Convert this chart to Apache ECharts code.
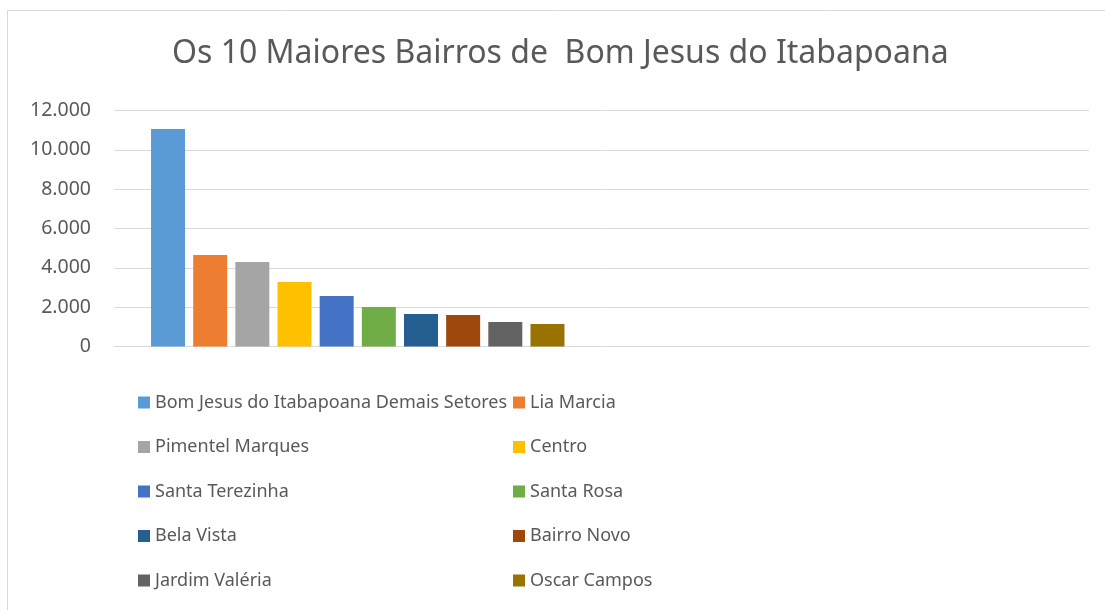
<!DOCTYPE html>
<html>
<head>
<meta charset="utf-8">
<script src="https://cdn.jsdelivr.net/npm/echarts@6/dist/echarts.min.js"></script>
<style>
  html, body { margin: 0; padding: 0; background: #fff; }
  #chart { width: 1105px; height: 610px; }
</style>
</head>
<body>
<div id="chart"></div>
<script>
// bairros (one series each, as in the original sheet)
const bairros = [
    'Bom Jesus do Itabapoana Demais Setores', 'Lia Marcia',
    'Pimentel Marques', 'Centro',
    'Santa Terezinha', 'Santa Rosa',
    'Bela Vista', 'Bairro Novo',
    'Jardim Valéria', 'Oscar Campos'
];
const populacao = [11060, 4650, 4300, 3280, 2570, 2010, 1650, 1600, 1250, 1140];
const cores = ['#5B9BD5', '#ED7D31', '#A5A5A5', '#FFC000', '#4472C4',
               '#70AD47', '#255E91', '#9E480E', '#636363', '#997300'];
// two category slots, the second one is empty
const categorias = ['1', '2'];

const fonte = '"Noto Sans", sans-serif';
const cinza = '#595959';

const chart = echarts.init(document.getElementById('chart'));

const legendaBase = {
    orient: 'vertical',
    top: 392,
    padding: 0,
    icon: 'rect',
    itemWidth: 12,
    itemHeight: 12,
    itemGap: 23.5,
    selectedMode: false,
    textStyle: {color: cinza, fontSize: 18, fontFamily: fonte, lineHeight: 21}
};

const option = {
    animation: false,
    color: cores,
    title: {
        text: 'Os 10 Maiores Bairros de  Bom Jesus do Itabapoana',
        left: 167,
        top: 33,
        textStyle: {color: cinza, fontSize: 32, fontWeight: 'normal', fontFamily: fonte}
    },
    legend: [
        Object.assign({}, legendaBase, {left: 138, data: bairros.filter((b, i) => i % 2 === 0)}),
        Object.assign({}, legendaBase, {left: 513, data: bairros.filter((b, i) => i % 2 === 1)})
    ],
    grid: {left: 114, right: 16, top: 110.5, bottom: 263.5, containLabel: false},
    xAxis: {
        type: 'category',
        data: categorias,
        axisLine: {show: true, lineStyle: {color: '#d9d9d9', width: 1}},
        axisTick: {show: false},
        axisLabel: {show: false}
    },
    yAxis: {
        type: 'value',
        min: 0,
        max: 12000,
        interval: 2000,
        axisLine: {show: false},
        axisTick: {show: false},
        splitLine: {lineStyle: {color: '#d9d9d9', width: 1}},
        axisLabel: {
            color: cinza,
            fontSize: 19.5,
            fontFamily: fonte,
            margin: 23,
            formatter: v => v.toString().replace(/\B(?=(\d{3})+(?!\d))/g, '.')
        }
    },
    graphic: [
        {type: 'line', shape: {x1: 8, y1: 10.5, x2: 1105, y2: 10.5}, style: {stroke: '#d9d9d9', lineWidth: 1}},
        {type: 'line', shape: {x1: 7.5, y1: 10, x2: 7.5, y2: 610}, style: {stroke: '#d9d9d9', lineWidth: 1}}
    ],
    series: bairros.map((nome, i) => ({
        name: nome,
        type: 'bar',
        barWidth: 34,
        barGap: '24%',
        data: [populacao[i], '-']
    }))
};

chart.setOption(option);
</script>
</body>
</html>
